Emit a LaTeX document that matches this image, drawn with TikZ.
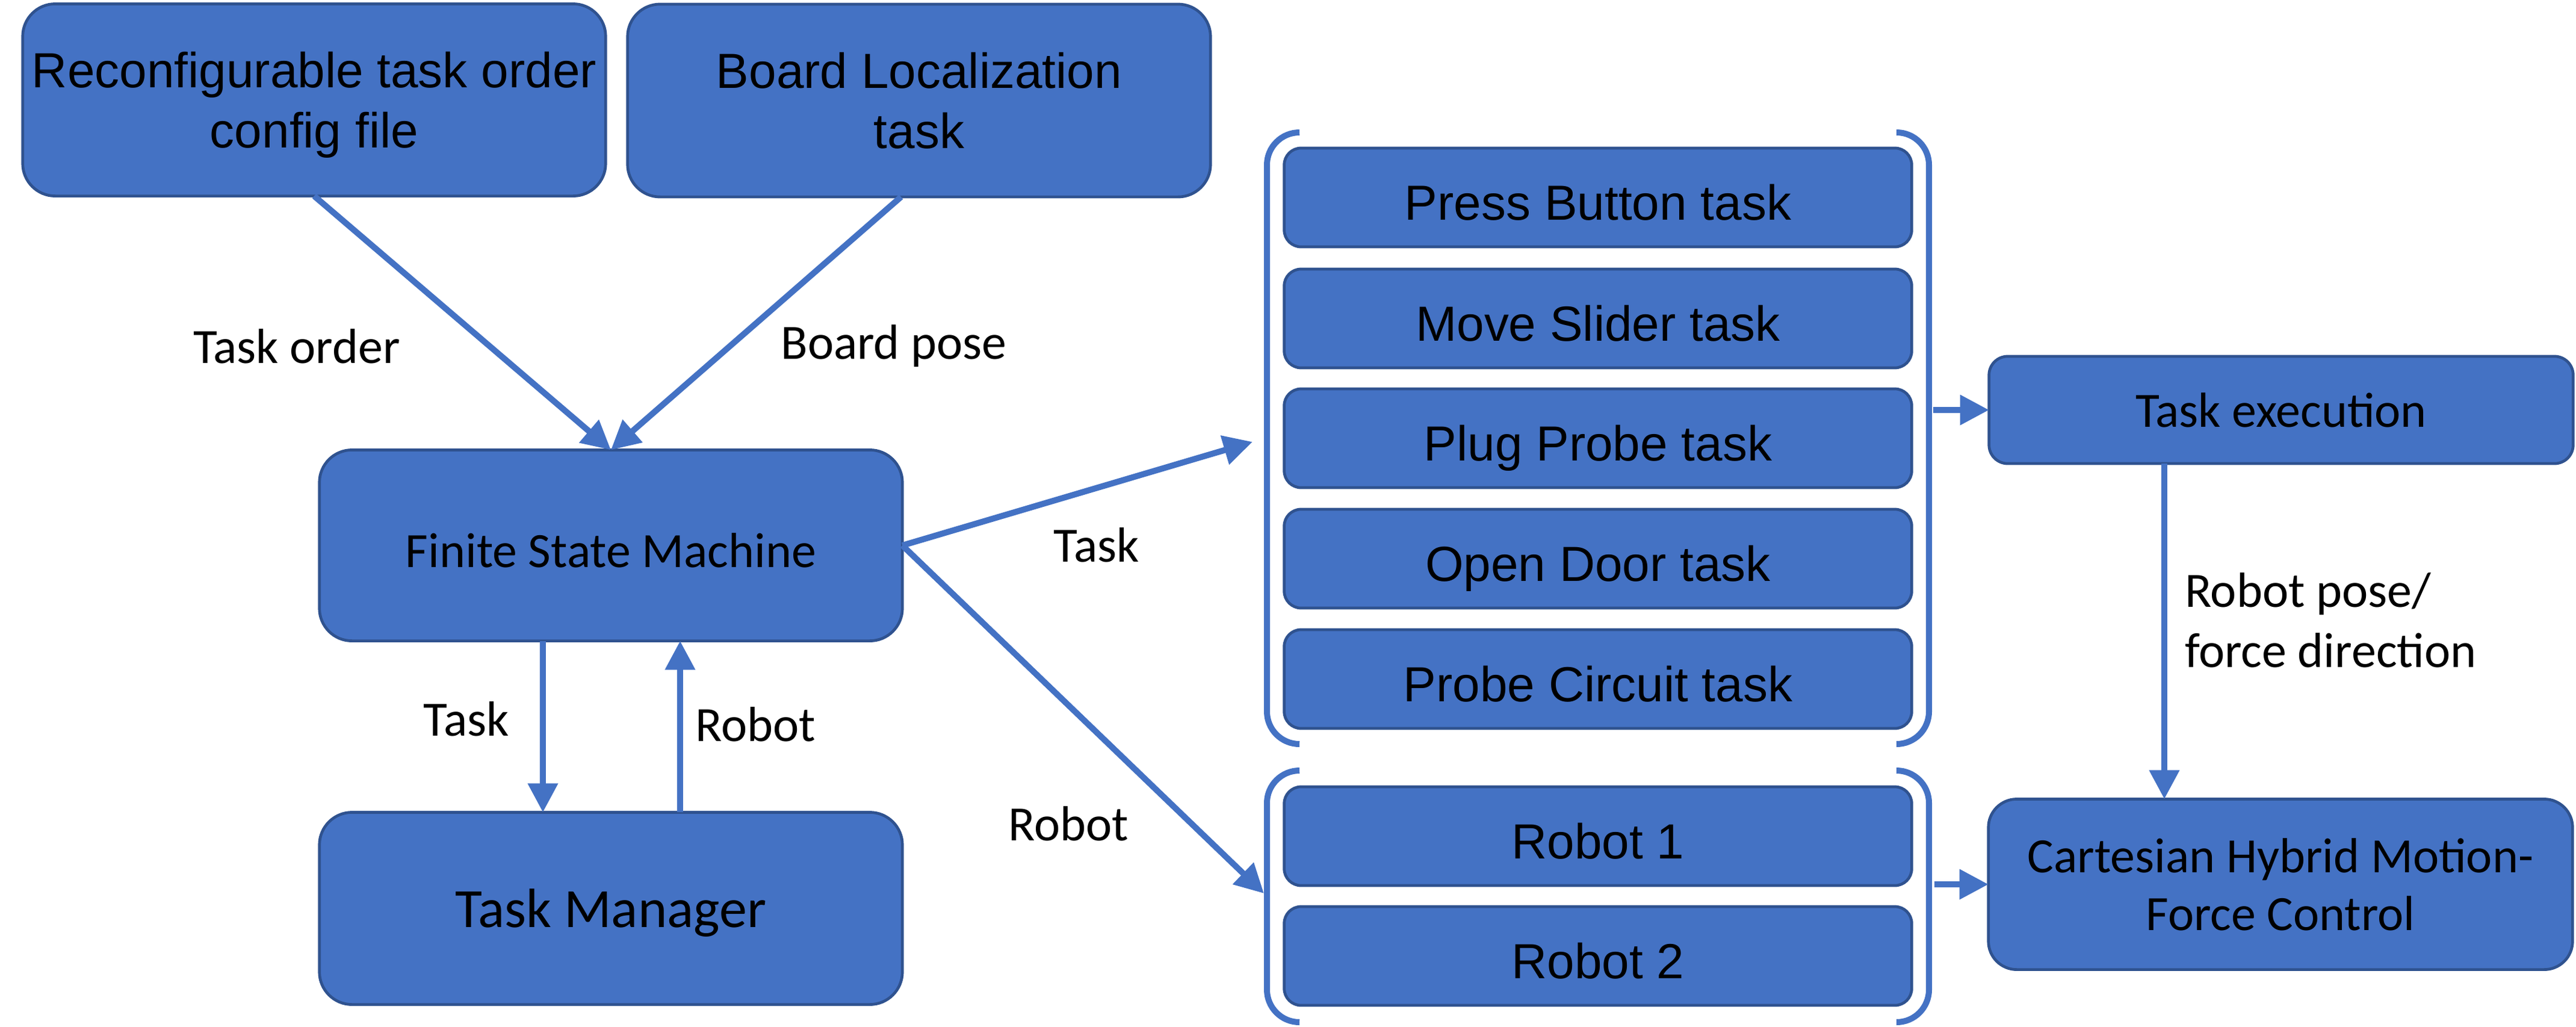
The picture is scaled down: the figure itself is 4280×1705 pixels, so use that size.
\documentclass[tikz,border=0pt]{standalone}
\usepackage{fontspec}
\setmainfont{Carlito}
\newfontfamily\arialf{Liberation Sans}
\usetikzlibrary{arrows.meta}
\definecolor{boxfill}{HTML}{4472C4}
\definecolor{boxline}{HTML}{2F528F}
\begin{document}
\begin{tikzpicture}[x=0.01cm, y=-0.01cm,
  every node/.style={inner sep=0pt, outer sep=0pt},
  basebox/.style={draw=boxline, fill=boxfill, line width=0.047cm, align=center, text=black},
  bigbox/.style={basebox, minimum width=9.68cm, rounded corners=0.54cm},
  taskbox/.style={basebox, minimum width=10.42cm, minimum height=1.64cm, rounded corners=0.28cm,
     font=\arialf\fontsize{23.3}{28.45}\selectfont, text height=0.74cm, text depth=0cm},
  arialtxt/.style={font=\arialf\fontsize{23.3}{28.45}\selectfont},
  calitxt/.style={font=\fontsize{23.3}{27.3}\selectfont},
  lbl/.style={font=\fontsize{23.3}{28.45}\selectfont, text=black},
  conn/.style={draw=boxfill, line width=0.1cm, -{Triangle[length=0.48cm, width=0.48cm]}},
  bracketline/.style={draw=boxfill, line width=0.1cm, rounded corners=0.54cm}
]
\useasboundingbox (0,0) rectangle (4280,1705);

% top boxes
\node[bigbox, arialtxt, minimum height=3.19cm] (cfg) at (522,166) {Reconfigurable task order\\\smash{config file}};
\node[bigbox, arialtxt, minimum height=3.20cm] (loc) at (1527,167) {Board Localization\\task};

% left column
\node[bigbox, calitxt, minimum height=3.17cm, text height=0.73cm, text depth=0cm] (fsm) at (1015,906) {Finite State Machine};
\node[bigbox, font=\fontsize{26.2}{30}\selectfont, minimum height=3.19cm, text height=0.63cm, text depth=0cm] (tm) at (1015,1509) {Task Manager};

% task group
\node[taskbox] (t1) at (2655,328) {Press Button task};
\node[taskbox] (t2) at (2655,529) {Move Slider task};
\node[taskbox] (t3) at (2655,728) {Plug Probe task};
\node[taskbox] (t4) at (2655,928) {Open Door task};
\node[taskbox] (t5) at (2655,1128) {Probe Circuit task};

% robot group
\node[taskbox] (r1) at (2655,1389) {Robot 1};
\node[taskbox] (r2) at (2655,1588) {Robot 2};

% right column
\node[basebox, calitxt, minimum width=9.70cm, minimum height=1.78cm, rounded corners=0.31cm] (ex) at (3790,681) {Task execution};
\node[basebox, calitxt, minimum width=9.70cm, minimum height=2.83cm, rounded corners=0.47cm] (ch) at (3789,1469) {Cartesian Hybrid Motion-\\Force Control};

% brackets
\draw[bracketline] (2159,220) -- (2105,220) -- (2105,1236) -- (2159,1236);
\draw[bracketline] (3151,220) -- (3205,220) -- (3205,1236) -- (3151,1236);
\draw[bracketline] (2159,1280) -- (2105,1280) -- (2105,1698) -- (2159,1698);
\draw[bracketline] (3151,1280) -- (3205,1280) -- (3205,1698) -- (3151,1698);

% helper coordinates
\coordinate (bx) at (1497,0);
\coordinate (dx) at (902,0);
\coordinate (ux) at (1130,0);
\coordinate (vx) at (3596,0);
\coordinate (tTip) at (2081,734);
\coordinate (rTip) at (2100,1484);
\coordinate (brU) at (3212,681);
\coordinate (brL) at (3214,1469);

% connectors
\draw[conn] (cfg.south) -- (fsm.north);
\draw[conn] (loc.south -| bx) -- (fsm.north);
\draw[conn] (fsm.east) -- (tTip);
\draw[conn] (fsm.east) -- (rTip);
\draw[conn] (fsm.south -| dx) -- (tm.north -| dx);
\draw[conn] (tm.north -| ux) -- (fsm.south -| ux);
\draw[conn] (brU) -- (ex.west);
\draw[conn] (brL) -- (ch.west);
\draw[conn] (ex.south -| vx) -- (ch.north -| vx);

% labels
\node[lbl] (lto) at (493,575) {Task order};
\node[lbl] (lbp) at (1485,575) {Board pose};
\node[lbl] (ltr) at (1822,905) {Task};
\node[lbl] (lrr) at (1775,1368) {Robot};
\node[lbl] (ltd) at (775,1194) {Task};
\node[lbl] (lru) at (1255,1203) {Robot};
\node[lbl, align=left, anchor=west] (lrp) at (3630,1030) {Robot pose/\\force direction};
\end{tikzpicture}
\end{document}
